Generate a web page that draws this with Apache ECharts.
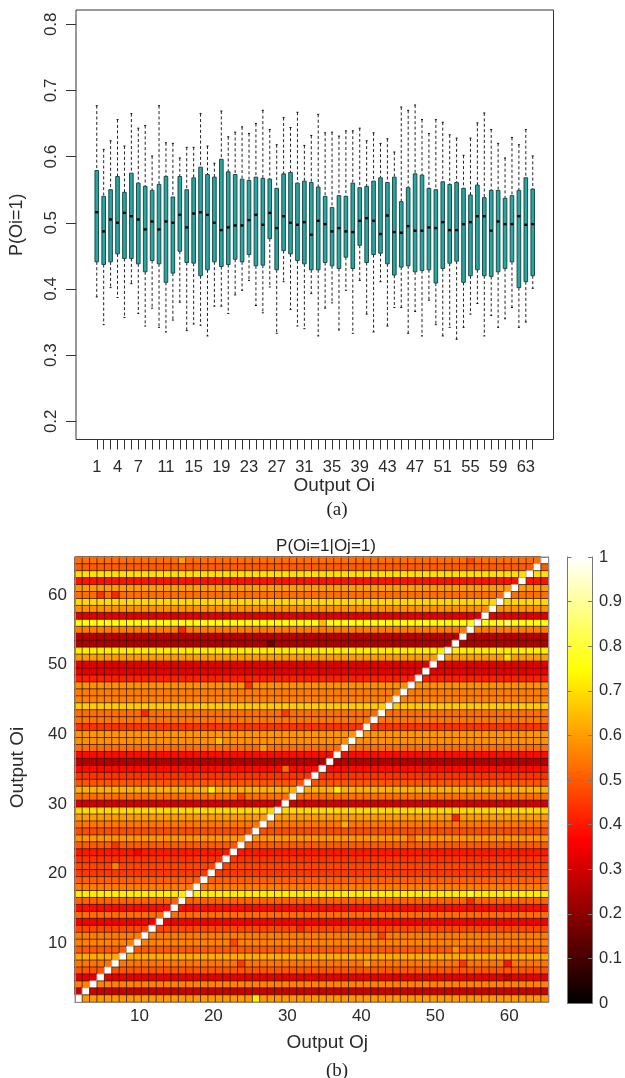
<!DOCTYPE html>
<html><head><meta charset="utf-8">
<style>html,body{margin:0;padding:0;background:#fff}#c{width:625px;height:1078px}</style>
<script src="https://cdn.jsdelivr.net/npm/echarts@6/dist/echarts.min.js"></script>
</head><body><div id="c"></div>
<script>
// ---- panel (a): box plot, outputs 1..64
const whiskerHigh=[.677,.611,.624,.656,.616,.665,.643,.647,.601,.677,.621,.620,.598,.614,.614,.665,.616,.590,.669,.630,.637,.645,.635,.650,.670,.641,.618,.659,.644,.667,.617,.632,.664,.636,.637,.631,.639,.639,.643,.624,.636,.620,.627,.607,.675,.670,.678,.656,.635,.656,.652,.633,.628,.602,.628,.651,.666,.641,.620,.598,.629,.618,.641,.601];
const boxHigh=[.579,.540,.550,.570,.546,.575,.560,.555,.549,.558,.570,.539,.570,.550,.568,.584,.573,.569,.596,.577,.573,.566,.564,.569,.567,.566,.552,.574,.576,.560,.563,.561,.554,.540,.523,.541,.540,.560,.553,.555,.563,.568,.561,.569,.532,.553,.574,.572,.552,.550,.562,.558,.561,.552,.542,.557,.538,.549,.549,.537,.541,.549,.568,.551];
const medians=[.516,.487,.505,.500,.515,.510,.505,.490,.502,.490,.502,.500,.512,.493,.514,.516,.512,.500,.489,.493,.496,.496,.504,.512,.497,.515,.492,.510,.500,.497,.501,.482,.503,.498,.487,.492,.487,.486,.503,.507,.503,.483,.511,.486,.485,.495,.488,.488,.493,.492,.501,.489,.489,.498,.501,.510,.510,.488,.502,.498,.498,.510,.497,.498];
const boxLow=[.441,.437,.441,.453,.446,.446,.438,.426,.443,.438,.410,.424,.457,.440,.439,.420,.429,.441,.434,.437,.445,.441,.452,.435,.436,.476,.429,.458,.453,.443,.438,.429,.429,.440,.435,.431,.448,.431,.466,.440,.452,.454,.438,.421,.433,.435,.426,.428,.429,.409,.431,.439,.442,.410,.420,.429,.420,.419,.426,.431,.441,.402,.411,.420];
const whiskerLow=[.388,.346,.402,.387,.357,.408,.363,.344,.371,.342,.335,.353,.380,.337,.347,.345,.329,.374,.374,.363,.391,.398,.413,.375,.364,.403,.333,.411,.369,.344,.340,.393,.329,.371,.379,.338,.398,.333,.413,.362,.335,.411,.344,.372,.372,.333,.366,.329,.383,.346,.329,.342,.324,.342,.362,.378,.329,.360,.342,.355,.372,.342,.350,.401];
const outputTicks=Array.from({length:64},(_,i)=>i+1);
const outputLabels=[1,4,7,11,15,19,23,27,31,35,39,43,47,51,55,59,63];
const probTicks=[.2,.3,.4,.5,.6,.7,.8];

// ---- panel (b): heat map. Row levels read from top row to bottom row
const rowLevels=[.53,.50,.70,.39,.60,.53,.69,.58,.32,.76,.55,.26,.25,.72,.60,.32,.33,.41,.58,.55,.56,.67,.53,.54,.44,.59,.58,.53,.38,.26,.38,.44,.49,.63,.53,.30,.69,.60,.54,.48,.59,.50,.40,.44,.47,.45,.51,.55,.72,.51,.38,.53,.35,.47,.55,.56,.50,.62,.54,.49,.33,.56,.29,.59];
// individually visible cells: [row from top, column from left, value]
const oddCells=[[0,14,.60],[5,3,.44],[5,5,.42],[10,14,.42],[12,26,.16],[18,23,.44],[22,9,.42],[22,28,.45],[26,19,.65],[30,28,.52],[27,25,.60],[33,18,.72],[34,22,.46],[44,5,.56],[41,5,.44],[42,8,.36],[53,30,.42],[55,21,.47],[58,22,.45],[63,24,.72],[9,33,.65],[0,53,.47],[9,58,.85],[14,58,.70],[33,35,.72],[37,51,.42],[40,45,.53],[49,53,.43],[54,41,.46],[58,52,.44],[58,58,.40],[58,39,.60],[56,51,.58],[38,36,.62],[48,53,.78],[60,58,.28]];
const heatCategories=Array.from({length:64},(_,i)=>String(i+2));
const scaleTicks=[0,.1,.2,.3,.4,.5,.6,.7,.8,.9,1];
const hotStops=[[0,[0,0,0]],[.365,[255,0,0]],[.746,[255,255,0]],[1,[255,255,255]]];

function hotColor(t){
  for(let i=1;i<hotStops.length;i++){
    if(t<=hotStops[i][0]){
      const a=hotStops[i-1],b=hotStops[i],f=(t-a[0])/(b[0]-a[0]);
      return 'rgb('+a[1].map((v,k)=>Math.round(v+(b[1][k]-v)*f)).join(',')+')';
    }
  }
  return '#fff';
}
const hotList=Array.from({length:101},(_,i)=>hotColor(i/100));

const odd={};oddCells.forEach(c=>odd[c[0]+'_'+c[1]]=c[2]);
const heatData=[];
rowLevels.forEach((lv,n)=>{
  for(let c=0;c<64;c++){
    const y=63-n;
    const diag=c===y;
    const v=diag?1:(odd[n+'_'+c]!==undefined?odd[n+'_'+c]:lv);
    heatData.push(diag?{value:[c,y,v],itemStyle:{borderColor:'rgba(170,170,170,.9)'}}:[c,y,v]);
  }
});

const FONT='"Liberation Sans",Arial,sans-serif';
const INK='#2b2b2b';
const boxRows=outputTicks.map((o,i)=>[o,whiskerLow[i],boxLow[i],medians[i],boxHigh[i],whiskerHigh[i]]);

function renderBox(params,api){
  const x=api.value(0);
  const p=k=>api.coord([x,api.value(k)]);
  const wl=p(1),bl=p(2),m=p(3),bh=p(4),wh=p(5);
  const w=3.6,dash={stroke:'#222',lineWidth:1,lineDash:[3,2.4]},solid={stroke:'#111',lineWidth:1};
  return {type:'group',children:[
    {type:'line',shape:{x1:wh[0],y1:wh[1],x2:wh[0],y2:bh[1]},style:dash},
    {type:'line',shape:{x1:wl[0],y1:bl[1],x2:wl[0],y2:wl[1]},style:dash},
    {type:'line',shape:{x1:wh[0]-1,y1:wh[1],x2:wh[0]+1,y2:wh[1]},style:solid},
    {type:'line',shape:{x1:wl[0]-1,y1:wl[1],x2:wl[0]+1,y2:wl[1]},style:solid},
    {type:'rect',shape:{x:bh[0]-w/2,y:bh[1],width:w,height:bl[1]-bh[1]},style:{fill:'#26a8a2',stroke:'#1f4a4a',lineWidth:1}},
    {type:'rect',shape:{x:m[0]-1.5,y:m[1]-1.2,width:3,height:2.4},style:{fill:'#000'}}
  ]};
}

const option={
  animation:false,
  backgroundColor:'#fff',
  textStyle:{fontFamily:FONT},
  title:[
    {text:'(a)',left:332,top:496,textAlign:'center',textStyle:{fontFamily:'"Liberation Serif",serif',fontSize:19,fontWeight:'normal',color:'#222'}},
    {text:'P(Oi=1|Oj=1)',left:321,top:533,textAlign:'center',textStyle:{fontFamily:FONT,fontSize:17,fontWeight:'normal',color:'#222'}},
    {text:'(b)',left:332,top:1057,textAlign:'center',textStyle:{fontFamily:'"Liberation Serif",serif',fontSize:19,fontWeight:'normal',color:'#222'}}
  ],
  grid:[
    {left:72.5,top:10,width:481,height:429.5,show:true,borderColor:'#333',borderWidth:1,backgroundColor:'#fff'},
    {left:74,top:557,width:474.5,height:445},
    {left:567.5,top:557,width:26.5,height:446}
  ],
  xAxis:[
    {gridIndex:0,type:'value',min:-2,max:67,splitLine:{show:false},axisLine:{show:false,onZero:false},
     axisTick:{show:true,length:10,customValues:outputTicks,lineStyle:{color:'#333',width:1}},
     axisLabel:{customValues:outputLabels,fontSize:16.5,color:INK,margin:19,hideOverlap:false,showMinLabel:true,showMaxLabel:true},
     name:'Output Oi',nameLocation:'middle',nameGap:36,nameTextStyle:{fontSize:19,color:INK,fontFamily:FONT,padding:[0,0,0,39]}},
    {gridIndex:1,type:'category',data:heatCategories,position:'bottom',z:5,axisLine:{show:true,lineStyle:{color:'#888'}},axisTick:{show:false},
     axisLabel:{interval:(i,v)=>+v%10===0,fontSize:17,color:INK,margin:6,padding:[0,0,0,3]},
     name:'Output Oj',nameLocation:'middle',nameGap:31,nameTextStyle:{fontSize:19,color:INK,fontFamily:FONT,padding:[0,0,0,31]}},
    {gridIndex:1,type:'category',data:heatCategories,position:'top',z:5,axisLine:{show:true,lineStyle:{color:'#888'}},axisTick:{show:false},axisLabel:{show:false}},
    {gridIndex:2,type:'category',data:['scale'],z:5,axisLine:{show:true,lineStyle:{color:'#777'}},axisTick:{show:false},axisLabel:{show:false}},
    {gridIndex:2,type:'category',data:['scale'],position:'top',z:5,axisLine:{show:true,lineStyle:{color:'#777'}},axisTick:{show:false},axisLabel:{show:false}}
  ],
  yAxis:[
    {gridIndex:0,type:'value',min:.1725,max:.8216,splitLine:{show:false},axisLine:{show:false,onZero:false},
     axisTick:{show:true,length:10,customValues:probTicks,lineStyle:{color:'#333'}},
     axisLabel:{customValues:probTicks,rotate:90,fontSize:17,color:INK,margin:16,formatter:v=>v.toFixed(1)},
     name:'P(Oi=1)',nameLocation:'middle',nameGap:50,nameTextStyle:{fontSize:18,color:INK,fontFamily:FONT}},
    {gridIndex:1,type:'category',data:heatCategories,z:5,axisLine:{show:true,lineStyle:{color:'#888'}},axisTick:{show:false},
     axisLabel:{interval:(i,v)=>+v%10===0,fontSize:17,color:INK,margin:8,padding:[0,0,13,0]},
     name:'Output Oi',nameLocation:'middle',nameGap:48,nameRotate:90,nameTextStyle:{fontSize:19,color:INK,fontFamily:FONT,padding:[0,0,0,24]}},
    {gridIndex:1,type:'category',data:heatCategories,position:'right',z:5,axisLine:{show:true,lineStyle:{color:'#888'}},axisTick:{show:false},axisLabel:{show:false}},
    {gridIndex:2,type:'value',min:0,max:1,position:'right',z:5,splitLine:{show:false},axisLine:{show:true,lineStyle:{color:'#777'}},
     axisTick:{show:true,inside:true,length:4,customValues:scaleTicks,lineStyle:{color:'#777'}},
     axisLabel:{customValues:scaleTicks,fontSize:16.5,color:INK,margin:7,formatter:v=>(v===0||v===1)?String(v):v.toFixed(1)}},
    {gridIndex:2,type:'value',min:0,max:1,position:'left',z:5,splitLine:{show:false},axisLine:{show:true,lineStyle:{color:'#777'}},
     axisTick:{show:true,inside:true,length:4,customValues:scaleTicks,lineStyle:{color:'#777'}},axisLabel:{show:false}}
  ],
  visualMap:{show:false,min:0,max:1,seriesIndex:1,dimension:2,inRange:{color:hotList}},
  series:[
    {type:'custom',xAxisIndex:0,yAxisIndex:0,data:boxRows,encode:{x:0,y:[1,2,3,4,5]},renderItem:renderBox,silent:true,clip:false},
    {type:'heatmap',xAxisIndex:1,yAxisIndex:1,data:heatData,progressive:0,silent:true,
     itemStyle:{borderColor:'rgba(50,22,0,.72)',borderWidth:1}},
    {type:'bar',xAxisIndex:3,yAxisIndex:3,data:[1],barWidth:'100%',silent:true,
     itemStyle:{color:{type:'linear',x:0,y:1,x2:0,y2:0,colorStops:hotStops.map(s=>({offset:s[0],color:'rgb('+s[1].join(',')+')'}))}}}
  ]
};
const chart=echarts.init(document.getElementById('c'),null,{renderer:'canvas'});
chart.setOption(option);
</script></body></html>
